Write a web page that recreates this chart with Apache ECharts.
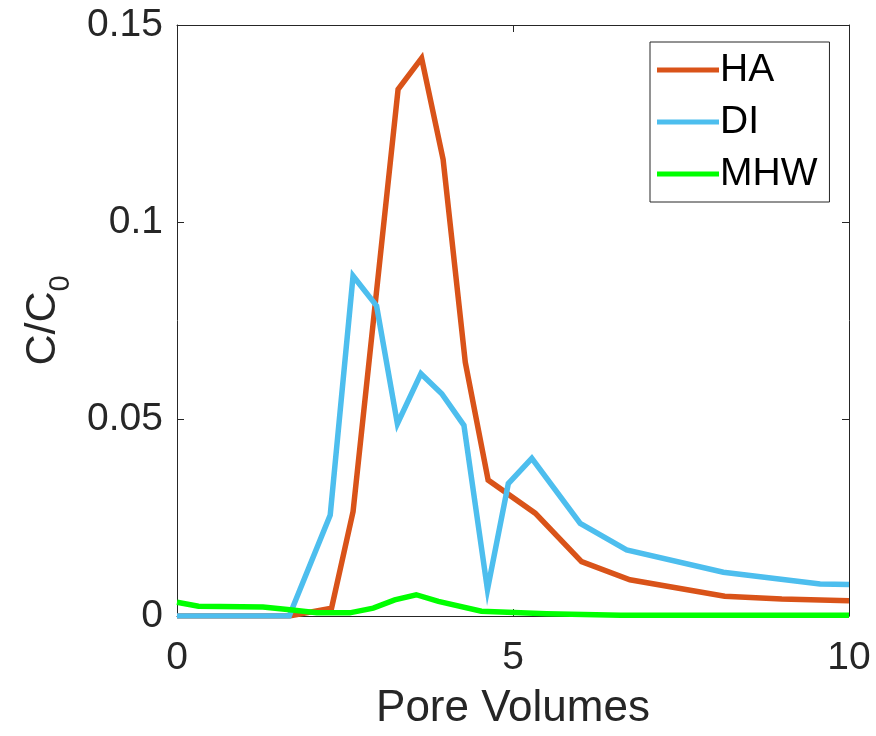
<!DOCTYPE html>
<html>
<head>
<meta charset="utf-8">
<script src="https://cdn.jsdelivr.net/npm/echarts@6/dist/echarts.min.js"></script>
<style>html,body{margin:0;padding:0;background:#fff}#c{width:876px;height:736px}</style>
</head>
<body>
<div id="c"></div>
<script>
const seriesNames = ['HA', 'DI', 'MHW'];
const haX = [0, 1.67, 2.30, 2.62, 3.29, 3.64, 3.96, 4.29, 4.63, 5.33, 6.02, 6.74, 8.15, 9.0, 10];
const haY = [0, 0, 0.002, 0.0265, 0.1337, 0.1416, 0.1159, 0.0644, 0.0345, 0.0261, 0.0138, 0.0092, 0.0050, 0.0043, 0.0039];
const diX = [0, 1.67, 2.28, 2.62, 2.97, 3.28, 3.63, 3.94, 4.27, 4.62, 4.93, 5.28, 6.0, 6.69, 8.13, 9.57, 10];
const diY = [0, 0, 0.0256, 0.0863, 0.0787, 0.0488, 0.0615, 0.0564, 0.0484, 0.0067, 0.0336, 0.0400, 0.0235, 0.0168, 0.0111, 0.0081, 0.0080];
const mhwX = [0, 0.32, 1.28, 1.68, 2.08, 2.57, 2.92, 3.24, 3.56, 3.89, 4.53, 5.5, 6.6, 10];
const mhwY = [0.0035, 0.0025, 0.0023, 0.0016, 0.0008, 0.0008, 0.0020, 0.0041, 0.0054, 0.0037, 0.0012, 0.0006, 0.0002, 0.0002];
const xTicks = [0, 5, 10];
const yTicks = [0, 0.05, 0.1, 0.15];
const colors = ['#D95319', '#4DBEEE', '#00FF00'];

const pair = (xs, ys) => xs.map((x, i) => [x, ys[i]]);
const dataSets = [pair(haX, haY), pair(diX, diY), pair(mhwX, mhwY)];

const font = 'Liberation Sans, Arial, Helvetica, sans-serif';
const axisColor = '#262626';
const fs = 39;

const chart = echarts.init(document.getElementById('c'), null, {renderer: 'canvas'});
const baseAxis = {
  axisLine: {show: true, onZero: false, lineStyle: {color: axisColor, width: 1}},
  axisTick: {show: true, inside: true, length: 7, lineStyle: {color: axisColor}},
  splitLine: {show: false}
};
chart.setOption({
  animation: false,
  backgroundColor: '#fff',
  textStyle: {fontFamily: font},
  grid: {left: 177, right: 27, top: 25, bottom: 118, containLabel: false},
  legend: {
    data: seriesNames,
    left: 650, top: 42,
    orient: 'vertical',
    icon: 'rect',
    itemWidth: 62, itemHeight: 5, itemGap: 12,
    padding: [8, 12, 8, 7],
    borderColor: axisColor, borderWidth: 1,
    backgroundColor: '#fff',
    textStyle: {fontFamily: font, fontSize: fs, color: '#000', lineHeight: 40, padding: [0, 0, 0, -4]}
  },
  xAxis: [
    Object.assign({}, baseAxis, {
      type: 'value', min: xTicks[0], max: xTicks[xTicks.length - 1], interval: 5, position: 'bottom',
      axisLabel: {fontSize: fs, color: axisColor, margin: 23, fontFamily: font},
      name: 'Pore Volumes', nameLocation: 'middle', nameGap: 71,
      nameTextStyle: {fontSize: 44, color: axisColor, fontFamily: font}
    }),
    Object.assign({}, baseAxis, {
      type: 'value', min: 0, max: 10, interval: 5, position: 'top', axisLabel: {show: false}
    })
  ],
  yAxis: [
    Object.assign({}, baseAxis, {
      type: 'value', min: yTicks[0], max: yTicks[yTicks.length - 1], interval: 0.05, position: 'left',
      axisLabel: {fontSize: fs, color: axisColor, margin: 14, fontFamily: font},
      name: '{a|C/C}{b|0}', nameLocation: 'middle', nameGap: 105,
      nameTextStyle: {
        rich: {
          a: {fontSize: 43, color: axisColor, fontFamily: font, lineHeight: 50, verticalAlign: 'top'},
          b: {fontSize: 29, color: axisColor, fontFamily: font, lineHeight: 50, padding: [24, 0, 0, 0], verticalAlign: 'top'}
        }
      }
    }),
    Object.assign({}, baseAxis, {
      type: 'value', min: 0, max: 0.15, interval: 0.05, position: 'right', axisLabel: {show: false}
    })
  ],
  series: seriesNames.map((n, i) => ({
    name: n, type: 'line', data: dataSets[i], xAxisIndex: 0, yAxisIndex: 0,
    showSymbol: false, symbol: 'none', color: colors[i],
    lineStyle: {width: 5.5, color: colors[i], join: 'miter'},
    clip: true
  }))
});
</script>
</body>
</html>
